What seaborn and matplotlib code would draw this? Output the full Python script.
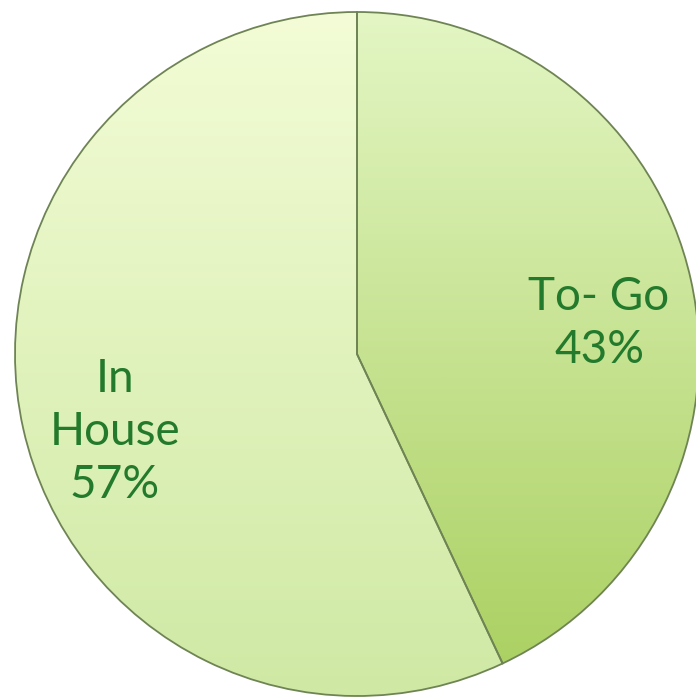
import numpy as np
import matplotlib
matplotlib.use("Agg")
import matplotlib.pyplot as plt
import seaborn as sns
from matplotlib.colors import LinearSegmentedColormap

sns.set_theme(style="white")
plt.rcParams['font.family'] = ['Lato', 'DejaVu Sans']

categories = ["To- Go", "In House"]
values = [43, 57]
label_color = "#237a2c"

# gradient colours (top, bottom) per slice
grad = {
    "To- Go": ("#e3f6c4", "#a9cf5e"),
    "In House": ("#f3fcd6", "#cfe9a4"),
}

W, H = 696, 699
fig = plt.figure(figsize=(W / 100, H / 100), dpi=100)
ax = fig.add_axes([0, 0, 1, 1])

cx, cy, R = 357, 354, 342

wedges, texts = ax.pie(values, startangle=90, counterclock=False, radius=1.0,
                       wedgeprops=dict(edgecolor="#6f8454", linewidth=1.3))
ax.set_aspect("auto")
ax.set_xlim(-cx / R, (W - cx) / R)
ax.set_ylim(-(H - cy) / R, cy / R)

# gradient fills clipped to wedges
for w, cat in zip(wedges, categories):
    top, bot = grad[cat]
    cmap = LinearSegmentedColormap.from_list(cat, [bot, top])
    g = np.linspace(0, 1, 256).reshape(-1, 1)
    im = ax.imshow(g, cmap=cmap, origin="lower", extent=(-1, 1, -1, 1),
                   aspect="auto", zorder=w.get_zorder() - 0.1, interpolation="bicubic")
    im.set_clip_path(w)
    w.set_facecolor("none")

# labels
for w, cat, v in zip(wedges, categories, values):
    ang = np.deg2rad((w.theta1 + w.theta2) / 2)
    d = 0.725
    x, y = d * np.cos(ang), d * np.sin(ang) - 0.07
    txt = cat.replace("In House", "In\nHouse") + f"\n{v}%"
    ax.text(x, y, txt, ha="center", va="center", fontsize=33, color=label_color,
            fontweight="normal", linespacing=1.33, zorder=10)

ax.axis("off")
fig.savefig("out.png", dpi=100, facecolor="white")
